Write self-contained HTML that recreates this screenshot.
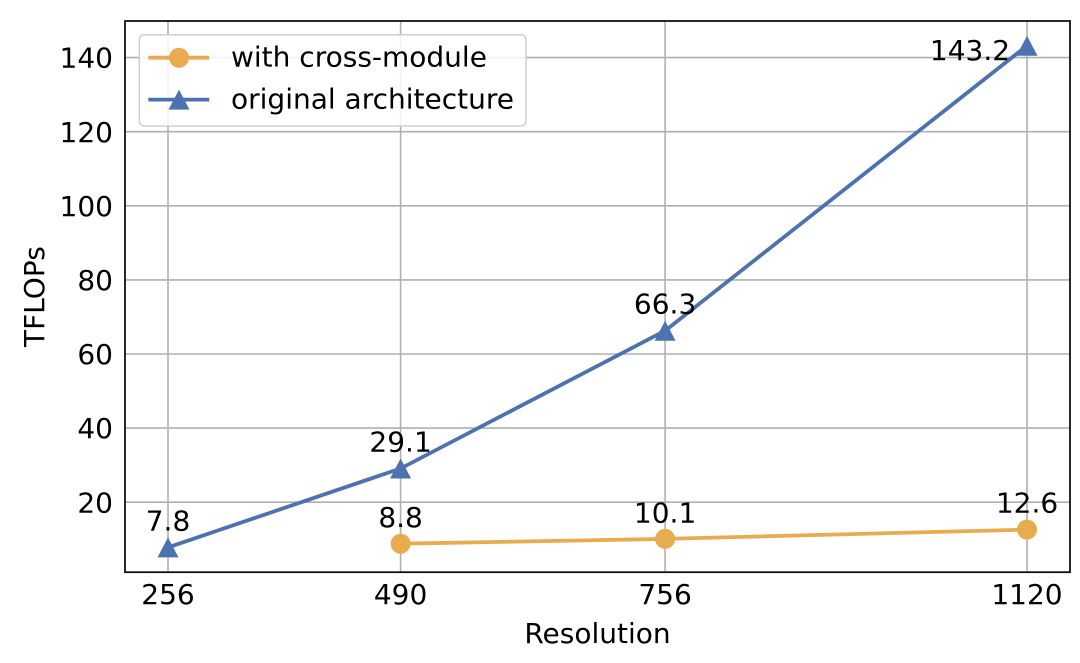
<!DOCTYPE html>
<html>
<head>
<meta charset="utf-8">
<style>
html,body{margin:0;padding:0;background:#fff;}
svg{display:block;}
text{font-family:"DejaVu Sans","Liberation Sans",sans-serif;fill:#000;}
</style>
</head>
<body>
<svg width="1080" height="663" viewBox="0 0 1080 663" xmlns="http://www.w3.org/2000/svg">
  <rect x="0" y="0" width="1080" height="663" fill="#fff"/>
  <!-- grid -->
  <g stroke="#b0b0b0" stroke-width="1.6">
    <line x1="168" y1="21" x2="168" y2="572"/>
    <line x1="400.6" y1="21" x2="400.6" y2="572"/>
    <line x1="665.1" y1="21" x2="665.1" y2="572"/>
    <line x1="1027" y1="21" x2="1027" y2="572"/>
    <line x1="125" y1="502.2" x2="1070" y2="502.2"/>
    <line x1="125" y1="428.1" x2="1070" y2="428.1"/>
    <line x1="125" y1="354.0" x2="1070" y2="354.0"/>
    <line x1="125" y1="279.9" x2="1070" y2="279.9"/>
    <line x1="125" y1="205.8" x2="1070" y2="205.8"/>
    <line x1="125" y1="131.7" x2="1070" y2="131.7"/>
    <line x1="125" y1="57.6" x2="1070" y2="57.6"/>
  </g>
  <!-- series: original architecture -->
  <polyline points="168,547.4 400.6,468.5 665.1,330.7 1027,45.7" fill="none" stroke="#4C72B0" stroke-width="3.8" stroke-linejoin="round"/>
  <g fill="#4C72B0">
    <polygon points="168,537.4 157.5,557.4 178.5,557.4"/>
    <polygon points="400.6,458.5 390.1,478.5 411.1,478.5"/>
    <polygon points="665.1,320.7 654.6,340.7 675.6,340.7"/>
    <polygon points="1027,35.7 1016.5,55.7 1037.5,55.7"/>
  </g>
  <!-- series: with cross-module -->
  <polyline points="400.6,543.7 665.1,538.9 1027,529.6" fill="none" stroke="#E9AB4F" stroke-width="3.8" stroke-linejoin="round"/>
  <g fill="#E9AB4F">
    <circle cx="400.6" cy="543.7" r="10"/>
    <circle cx="665.1" cy="538.9" r="10"/>
    <circle cx="1027" cy="529.6" r="10"/>
  </g>
  <!-- annotations -->
  <g font-size="28" text-anchor="middle">
    <text x="168" y="530.7">7.8</text>
    <text x="400.6" y="451.7">29.1</text>
    <text x="665.1" y="313.5">66.3</text>
    <text x="970" y="60">143.2</text>
    <text x="400.6" y="526.8">8.8</text>
    <text x="665.1" y="522.3">10.1</text>
    <text x="1027" y="512.4">12.6</text>
  </g>
  <!-- spines -->
  <rect x="125" y="21" width="945" height="551.2" fill="none" stroke="#111" stroke-width="1.8"/>
  <!-- y tick labels -->
  <g font-size="28" text-anchor="end">
    <text x="113" y="512.3">20</text>
    <text x="113" y="438.2">40</text>
    <text x="113" y="364.1">60</text>
    <text x="113" y="290.0">80</text>
    <text x="113" y="215.9">100</text>
    <text x="113" y="141.8">120</text>
    <text x="113" y="67.7">140</text>
  </g>
  <!-- x tick labels -->
  <g font-size="28" text-anchor="middle">
    <text x="168" y="604">256</text>
    <text x="400.6" y="604">490</text>
    <text x="665.1" y="604">756</text>
    <text x="1027" y="604">1120</text>
  </g>
  <!-- axis labels -->
  <text x="597.5" y="643" font-size="28" text-anchor="middle">Resolution</text>
  <text x="0" y="0" font-size="28" text-anchor="middle" transform="translate(44,296.6) rotate(-90)">TFLOPs</text>
  <!-- legend -->
  <rect x="139.3" y="34.7" width="386.7" height="91.3" rx="5" ry="5" fill="#fff" fill-opacity="0.85" stroke="#d0d0d0" stroke-width="1.5"/>
  <line x1="148.3" y1="57.7" x2="209.3" y2="57.7" stroke="#E9AB4F" stroke-width="3.8"/>
  <circle cx="179" cy="57.7" r="10" fill="#E9AB4F"/>
  <line x1="148.3" y1="99.6" x2="209.3" y2="99.6" stroke="#4C72B0" stroke-width="3.8"/>
  <polygon points="179,89.6 168.5,109.6 189.5,109.6" fill="#4C72B0"/>
  <text x="231" y="66.7" font-size="28">with cross-module</text>
  <text x="231" y="108.4" font-size="28">original architecture</text>
</svg>
</body>
</html>
